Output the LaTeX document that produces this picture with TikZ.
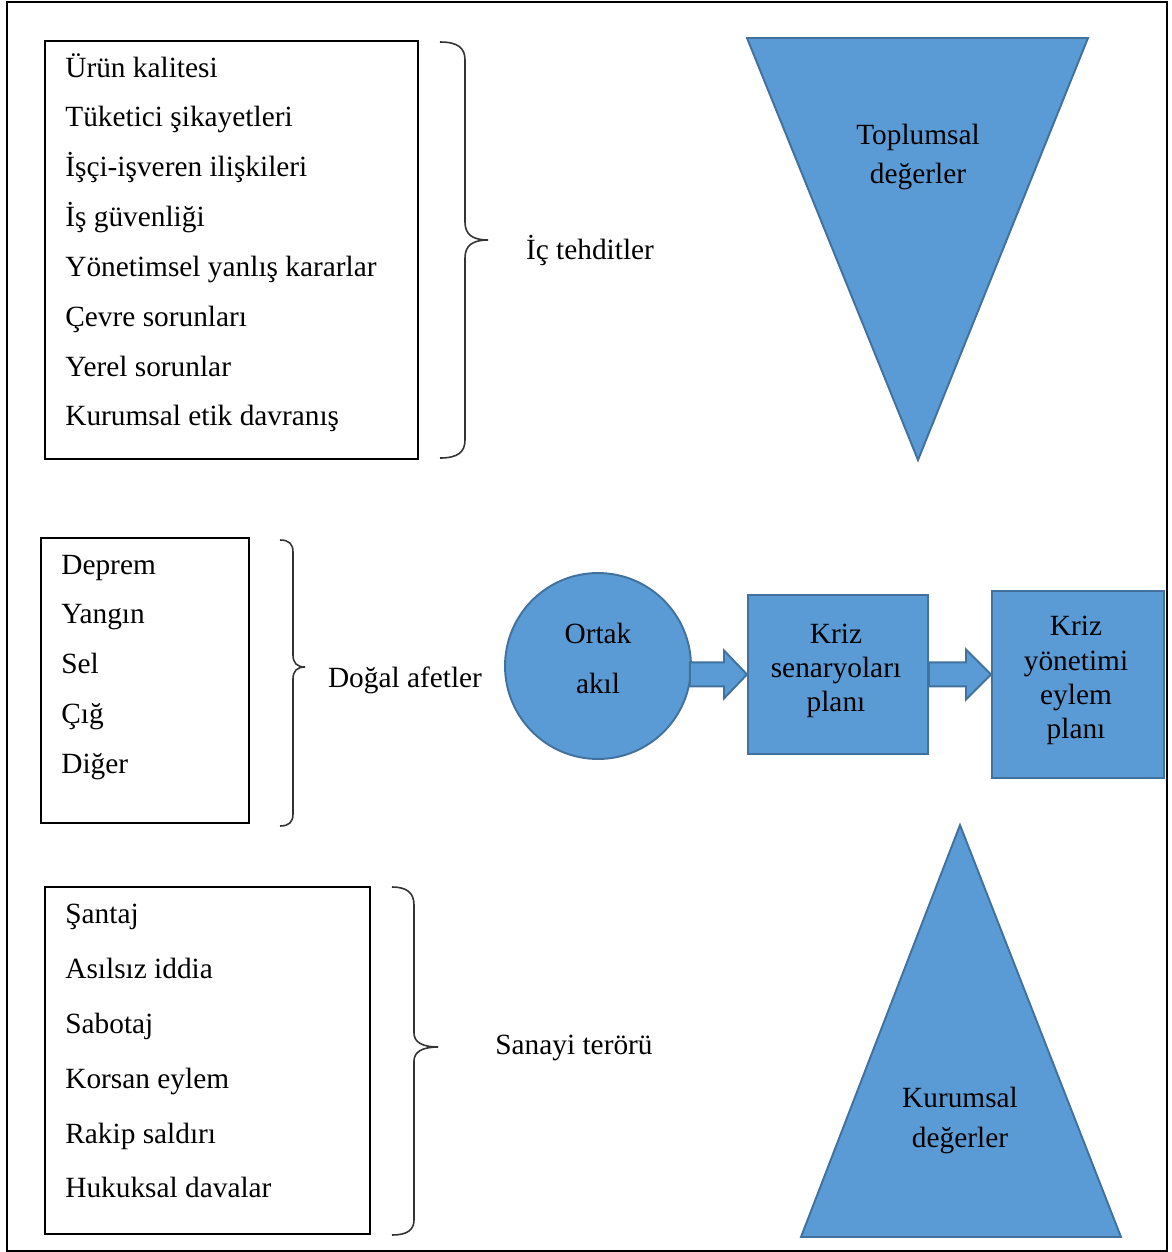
\documentclass[tikz,border=0pt]{standalone}
\usepackage{fontspec}
\setmainfont{Liberation Serif}
\usetikzlibrary{calc}
\definecolor{fillblue}{HTML}{5B9BD5}
\definecolor{edgeblue}{HTML}{41719C}
\begin{document}
\begin{tikzpicture}[x=0.02cm,y=-0.02cm,
  txt/.style={font=\fontsize{16.7}{19}\selectfont, inner sep=0pt},
  line1/.style={txt, text height=11pt, text depth=0pt},
  item/.style={line1, anchor=west},
  listbox/.style={draw=black, line width=1.1pt, anchor=north west, inner sep=0pt},
  bluefill/.style={fill=fillblue, draw=edgeblue, line width=1.1pt, line join=miter},
  bluebox/.style={bluefill, rectangle, anchor=north west, inner sep=0pt},
  brace/.style={draw=black!80, line width=0.9pt}]
\useasboundingbox (0,0) rectangle (1171,1252);
\draw[line width=1.4pt] (7,2) rectangle (1167,1251);

% ---- list box 1
\node[listbox, minimum width=7.46cm, minimum height=8.36cm] (b1) at (44,40) {};
\node[item] (b1a) at (65,68) {Ürün kalitesi};
\node[item] (b1b) at (65,117) {Tüketici şikayetleri};
\node[item] (b1c) at (65,167) {İşçi-işveren ilişkileri};
\node[item] (b1d) at (65,217) {İş güvenliği};
\node[item] (b1e) at (65,267) {Yönetimsel yanlış kararlar};
\node[item] (b1f) at (65,317) {Çevre sorunları};
\node[item] (b1g) at (65,367) {Yerel sorunlar};
\node[item] (b1h) at (65,416) {Kurumsal etik davranış};
\draw[brace] (440,42) .. controls (458,42) and (465,48) .. (465,60) -- (465,222)
  .. controls (465,234) and (472,240) .. (488,240)
  .. controls (472,240) and (465,246) .. (465,258) -- (465,440)
  .. controls (465,452) and (458,458) .. (440,458);
\node[line1] (l1) at (590,250) {İç tehditler};

% ---- list box 2
\node[listbox, minimum width=4.16cm, minimum height=5.7cm] (b2) at (40,537) {};
\node[item] (b2a) at (61,565) {Deprem};
\node[item] (b2b) at (61,614) {Yangın};
\node[item] (b2c) at (61,664) {Sel};
\node[item] (b2d) at (61,714) {Çığ};
\node[item] (b2e) at (61,764) {Diğer};
\draw[brace] (280,540) .. controls (289,540) and (293,544) .. (293,552) -- (293,655)
  .. controls (293,663) and (297,667) .. (305,667)
  .. controls (297,667) and (293,671) .. (293,679) -- (293,814)
  .. controls (293,822) and (289,826) .. (280,826);
\node[line1] (l2) at (405,678) {Doğal afetler};

% ---- list box 3
\node[listbox, minimum width=6.5cm, minimum height=6.94cm] (b4) at (44,886) {};
\node[item] (b4a) at (65,914) {Şantaj};
\node[item] (b4b) at (65,969) {Asılsız iddia};
\node[item] (b4c) at (65,1024) {Sabotaj};
\node[item] (b4d) at (65,1079) {Korsan eylem};
\node[item] (b4e) at (65,1134) {Rakip saldırı};
\node[item] (b4f) at (65,1188) {Hukuksal davalar};
\draw[brace] (392,887) .. controls (407,887) and (414,893) .. (414,905) -- (414,1033)
  .. controls (414,1042) and (422,1047) .. (438,1047)
  .. controls (422,1047) and (414,1052) .. (414,1061) -- (414,1220)
  .. controls (414,1230) and (407,1235) .. (392,1235);
\node[line1] (l3) at (574,1045) {Sanayi terörü};

% ---- triangles
\draw[bluefill] (747,38) -- (1088,38) -- (918,460) -- cycle;
\node[line1] (tv1) at (918,135) {Toplumsal};
\node[line1] (tv2) at (918,174) {değerler};
\draw[bluefill] (960,825) -- (1121,1237) -- (801,1237) -- cycle;
\node[line1] (kv1) at (960,1098) {Kurumsal};
\node[line1] (kv2) at (960,1138) {değerler};

% ---- flow
\node[bluefill, circle, minimum size=3.72cm, inner sep=0pt] (oa) at (598,666) {};
\node[line1] (oa1) at (598,634) {Ortak};
\node[line1] (oa2) at (598,684) {akıl};
\node[bluebox, minimum width=3.6cm, minimum height=3.18cm] (ks) at (747,594) {};
\node[line1] (ks1) at (836,634) {Kriz};
\node[line1] (ks2) at (836,668) {senaryoları};
\node[line1] (ks3) at (836,702) {planı};
\node[bluebox, minimum width=3.44cm, minimum height=3.74cm] (ky) at (991,590) {};
\node[line1] (ky1) at (1076,626) {Kriz};
\node[line1] (ky2) at (1076,661) {yönetimi};
\node[line1] (ky3) at (1076,695) {eylem};
\node[line1] (ky4) at (1076,729) {planı};

\coordinate (a1s) at ($(oa.east |- ks.west)+(-2,0)$);
\draw[bluefill] ($(a1s)+(0,-12)$) -- ($(ks.west)+(-23,-12)$) -- ($(ks.west)+(-23,-24)$)
  -- (ks.west) -- ($(ks.west)+(-23,24)$) -- ($(ks.west)+(-23,12)$) -- ($(a1s)+(0,12)$) -- cycle;
\coordinate (a2t) at (ky.west |- ks.east);
\draw[bluefill] ($(ks.east)+(0,-12)$) -- ($(a2t)+(-25,-12)$) -- ($(a2t)+(-25,-25)$)
  -- (a2t) -- ($(a2t)+(-25,25)$) -- ($(a2t)+(-25,12)$) -- ($(ks.east)+(0,12)$) -- cycle;
\end{tikzpicture}
\end{document}
